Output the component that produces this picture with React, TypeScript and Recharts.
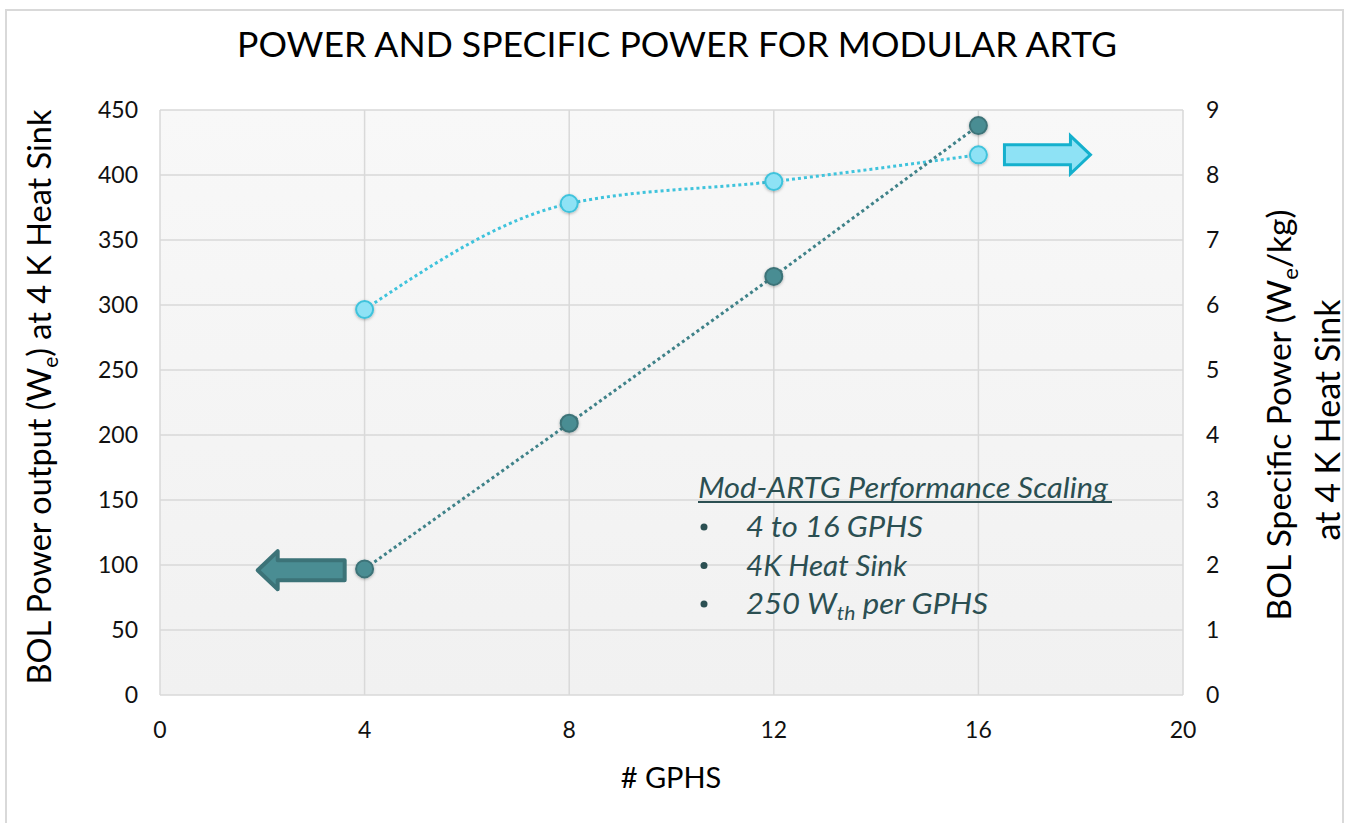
import React from 'react'
import {
  ComposedChart,
  Line,
  XAxis,
  YAxis,
  CartesianGrid,
  ReferenceDot
} from 'recharts'

// values
const gphs = [4, 8, 12, 16]
const powerOutput = [97, 209, 322, 438] // We, left axis
const specificPower = [5.93, 7.56, 7.9, 8.31] // We/kg, right axis

const xTicks = [0, 4, 8, 12, 16, 20]
const leftTicks = [0, 50, 100, 150, 200, 250, 300, 350, 400, 450]
const rightTicks = [0, 1, 2, 3, 4, 5, 6, 7, 8, 9]

const notes = ['4 to 16 GPHS', '4K Heat Sink']
const noteWidths = [177, 161, 242]

const data = gphs.map((g, i) => ({
  gphs: g,
  power: powerOutput[i],
  specific: specificPower[i]
}))

const FONT = 'Lato, "Noto Sans", sans-serif'
const DARK = '#4a8d93'
const DARK_EDGE = '#3c7378'
const CYAN = '#8ee2f5'
const CYAN_EDGE = '#3fc3dc'
const NOTE = '#2b4f52'

const tickStyle = { fontSize: 23, fill: '#111', fontFamily: FONT }

// block arrows used as axis pointers
const LeftArrow = ({ cx, cy }: any) => {
  const p = [
    [-44, 0], [-24, -19], [-24, -10], [43, -10],
    [43, 10], [-24, 10], [-24, 19]
  ]
  return (
    <polygon
      points={p.map(([x, y]) => `${cx + x},${cy + y}`).join(' ')}
      fill={DARK}
      stroke={DARK_EDGE}
      strokeWidth={4}
      strokeLinejoin="round"
    />
  )
}

const RightArrow = ({ cx, cy }: any) => {
  const p = [
    [-43, -10], [23, -10], [23, -19], [43, 0],
    [23, 19], [23, 10], [-43, 10]
  ]
  return (
    <polygon
      points={p.map(([x, y]) => `${cx + x},${cy + y}`).join(' ')}
      fill={CYAN}
      stroke="#14b0cd"
      strokeWidth={3}
    />
  )
}

export default function App() {
  return (
    <div style={{ position: 'absolute', left: 0, top: 0, width: 1348, height: 823, background: '#fff' }}>
      <ComposedChart
        width={1348}
        height={823}
        data={data}
        margin={{ top: 110, right: 0, bottom: 98, left: 0 }}
        style={{ position: 'absolute', left: 0, top: 0 }}
      >
        <defs>
          <linearGradient id="plotBg" x1="0" y1="0" x2="0" y2="1">
            <stop offset="0%" stopColor="#f8f8f8" />
            <stop offset="100%" stopColor="#f1f1f1" />
          </linearGradient>
          <filter id="shadow" x="-50%" y="-50%" width="200%" height="200%">
            <feDropShadow dx="0" dy="1" stdDeviation="1.5" floodColor="#000" floodOpacity="0.3" />
          </filter>
        </defs>
        <CartesianGrid
          yAxisId="left"
          stroke="#d9d9d9"
          strokeWidth={1.5}
          fill="url(#plotBg)"
          fillOpacity={1}
        />
        <XAxis
          dataKey="gphs"
          type="number"
          domain={[0, 20]}
          ticks={xTicks}
          axisLine={false}
          tickLine={false}
          tickSize={0}
          tickMargin={27}
          height={30}
          tick={tickStyle}
        />
        <YAxis
          yAxisId="left"
          domain={[0, 450]}
          ticks={leftTicks}
          width={160}
          axisLine={false}
          tickLine={false}
          tickSize={0}
          tickMargin={22}
          tick={tickStyle}
        />
        <YAxis
          yAxisId="right"
          orientation="right"
          domain={[0, 9]}
          ticks={rightTicks}
          width={165}
          axisLine={false}
          tickLine={false}
          tickSize={0}
          tickMargin={23}
          tick={tickStyle}
        />
        <Line
          yAxisId="right"
          dataKey="specific"
          type="monotone"
          stroke={CYAN_EDGE}
          strokeWidth={3}
          strokeDasharray="3 3"
          dot={{ r: 8.5, fill: CYAN, stroke: CYAN_EDGE, strokeWidth: 2, strokeDasharray: 'none', filter: 'url(#shadow)' }}
          isAnimationActive={false}
        />
        <Line
          yAxisId="left"
          dataKey="power"
          type="linear"
          stroke="#3f8289"
          strokeWidth={3}
          strokeDasharray="3 3"
          dot={{ r: 8.5, fill: DARK, stroke: DARK_EDGE, strokeWidth: 2, strokeDasharray: 'none', filter: 'url(#shadow)' }}
          isAnimationActive={false}
        />
        <ReferenceDot yAxisId="left" x={2.77} y={96} shape={LeftArrow} />
        <ReferenceDot yAxisId="right" x={17.35} y={8.31} shape={RightArrow} />
      </ComposedChart>

      <svg
        width={1348}
        height={823}
        style={{ position: 'absolute', left: 0, top: 0, pointerEvents: 'none' }}
        fontFamily={FONT}
      >
        <rect x={6} y={10} width={1337} height={830} fill="none" stroke="#d9d9d9" strokeWidth={2} />
        <text x={677} y={57} fontSize={34} textAnchor="middle" fill="#000" textLength={880} lengthAdjust="spacingAndGlyphs">
          POWER AND SPECIFIC POWER FOR MODULAR ARTG
        </text>
        <text x={671} y={788} fontSize={29} textAnchor="middle" fill="#000">
          # GPHS
        </text>
        <text x={51} y={397} fontSize={32.5} textAnchor="middle" fill="#000" transform="rotate(-90 51 397)">
          BOL Power output (W<tspan fontSize={21} dy={7}>e</tspan><tspan dy={-7}>) at 4 K Heat Sink</tspan>
        </text>
        <text x={1291} y={415} fontSize={33.5} textAnchor="middle" fill="#000" transform="rotate(-90 1291 415)">
          BOL Specific Power (W<tspan fontSize={22} dy={7}>e</tspan><tspan dy={-7}>/kg)</tspan>
        </text>
        <text x={1340} y={420} fontSize={34} textAnchor="middle" fill="#000" transform="rotate(-90 1340 420)">
          at 4 K Heat Sink
        </text>

        <g fill={NOTE} fontStyle="italic" fontSize={28}>
          <text x={698} y={498} textLength={410} lengthAdjust="spacingAndGlyphs">
            Mod-ARTG Performance Scaling
          </text>
          <line x1={698} y1={502} x2={1112} y2={502} stroke={NOTE} strokeWidth={2} />
          {[...notes, ''].map((t, i) => (
            <g key={i}>
              <circle cx={704} cy={527 + i * 38.5} r={3.5} />
              <text x={746} y={537 + i * 38.5} textLength={noteWidths[i]} lengthAdjust="spacingAndGlyphs">
                {i < notes.length ? t : (
                  <>
                    250 W<tspan fontSize={19} dy={6}>th</tspan>
                    <tspan dy={-6}> per GPHS</tspan>
                  </>
                )}
              </text>
            </g>
          ))}
        </g>
      </svg>
    </div>
  )
}
